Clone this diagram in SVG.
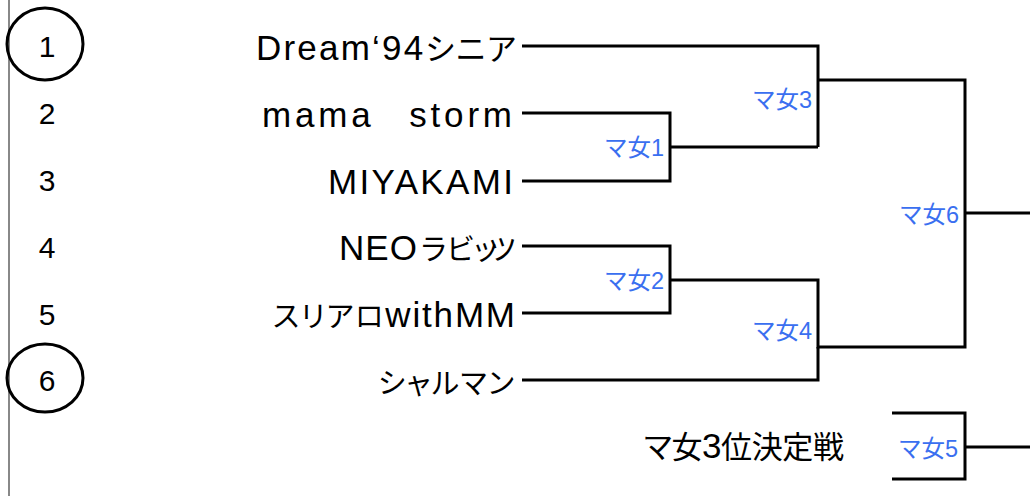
<svg xmlns="http://www.w3.org/2000/svg" width="1030" height="496" viewBox="0 0 1030 496">
<style>
.num{font-family:"Liberation Sans","Noto Sans CJK JP",sans-serif;font-size:30px;fill:#000;text-anchor:middle}
.team{font-family:"Liberation Sans","Noto Sans CJK JP",sans-serif;font-size:35px;fill:#000;text-anchor:start}
.j{font-size:31px;font-feature-settings:"palt"}
.k{font-size:29px;font-feature-settings:"palt"}
.kn{font-family:"Noto Sans CJK JP",sans-serif;font-size:29px;fill:#000}
.lbl{font-family:"Liberation Sans","Noto Sans CJK JP",sans-serif;font-size:23.5px;fill:#3a6ff0;text-anchor:end}
.ln{fill:none;stroke:#000;stroke-width:3}
.circ{fill:none;stroke:#000;stroke-width:3}
</style>
<rect width="1030" height="496" fill="#fff"/>
<line x1="9" y1="0" x2="9" y2="496" stroke="#888" stroke-width="2"/>
<g id="seeds">
<ellipse class="circ" cx="45" cy="44" rx="38" ry="36"/>
<ellipse class="circ" cx="45" cy="378" rx="38" ry="34"/>
<text class="num" x="47" y="57">1</text>
<text class="num" x="47" y="124">2</text>
<text class="num" x="47" y="191">3</text>
<text class="num" x="47" y="258">4</text>
<text class="num" x="47" y="325">5</text>
<text class="num" x="47" y="391">6</text>
</g>
<g id="team1"><text class="team" x="256" y="60" textLength="260" lengthAdjust="spacing">Dream‘94<tspan class="j">シニア</tspan></text></g>
<g id="team2"><text class="team" x="262" y="127" textLength="250" lengthAdjust="spacing">mama<tspan class="j">　</tspan>storm</text></g>
<g id="team3"><text class="team" x="328" y="194" textLength="185" lengthAdjust="spacing">MIYAKAMI</text></g>
<g id="team4"><text class="team" x="339" y="260" textLength="78" lengthAdjust="spacing">NEO</text><text class="kn" x="419 446 471 488" y="260">ラビッツ</text></g>
<g id="team5"><text class="team" x="273" y="327" textLength="242" lengthAdjust="spacing"><tspan class="k">スリアロ</tspan>withMM</text></g>
<g id="team6"><text class="team" x="378" y="394" textLength="136" lengthAdjust="spacing"><tspan class="k">シャルマン</tspan></text></g>
<g id="third"><text class="team" x="644" y="458" textLength="200" lengthAdjust="spacing"><tspan class="j">マ女</tspan>3<tspan class="j">位決定戦</tspan></text></g>
<g id="connectors">
<path class="ln" d="M522 46H818V147"/>
<path class="ln" d="M522 113H670V181H522"/>
<path class="ln" d="M670 147H818"/>
<path class="ln" d="M818 80H965V347H818V280H670"/>
<path class="ln" d="M522 246H670V313H522"/>
<path class="ln" d="M522 380H818V347"/>
<path class="ln" d="M965 213H1030"/>
<path class="ln" d="M892 413H965V479H892"/>
<path class="ln" d="M965 447H1030"/>
</g>
<g id="m1"><text class="lbl" x="664" y="156">マ女1</text></g>
<g id="m2"><text class="lbl" x="664" y="289">マ女2</text></g>
<g id="m3"><text class="lbl" x="812" y="108">マ女3</text></g>
<g id="m4"><text class="lbl" x="812" y="339">マ女4</text></g>
<g id="m5"><text class="lbl" x="958" y="457">マ女5</text></g>
<g id="m6"><text class="lbl" x="959" y="223">マ女6</text></g>
</svg>
